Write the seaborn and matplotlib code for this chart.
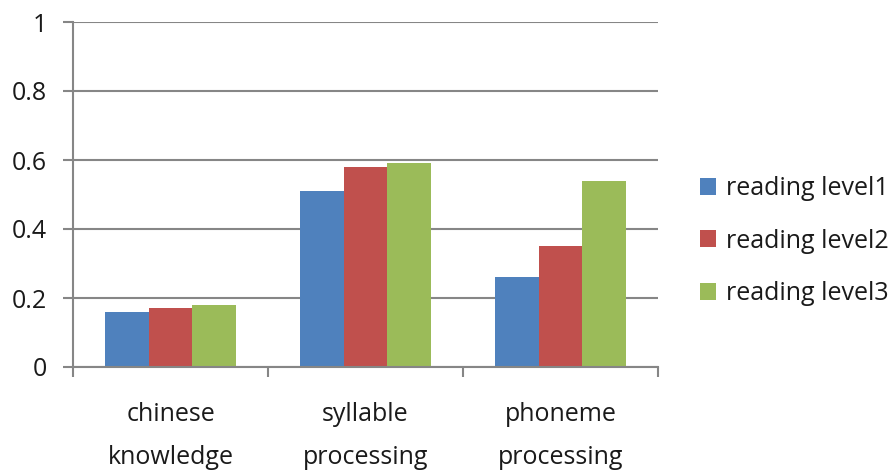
import matplotlib
matplotlib.use("Agg")
import matplotlib.pyplot as plt
from matplotlib.patches import Patch
import seaborn as sns
import pandas as pd

# Chart data
categories = ["chinese\nknowledge", "syllable\nprocessing", "phoneme\nprocessing"]
series_names = ["reading level1", "reading level2", "reading level3"]
level1 = [0.16, 0.51, 0.26]
level2 = [0.17, 0.58, 0.35]
level3 = [0.18, 0.59, 0.54]
y_ticks = [0, 0.2, 0.4, 0.6, 0.8, 1]
y_tick_labels = ["0", "0.2", "0.4", "0.6", "0.8", "1"]
colors = ["#4F81BD", "#C0504D", "#9BBB59"]

rows = []
for name, vals in zip(series_names, [level1, level2, level3]):
    for cat, v in zip(categories, vals):
        rows.append({"category": cat, "series": name, "value": v})
df = pd.DataFrame(rows)

sns.set_theme(style="white")
plt.rcParams["font.family"] = ["Open Sans", "DejaVu Sans"]

fig = plt.figure(figsize=(8.96, 4.75), dpi=100)
ax = fig.add_axes([73 / 896, 1 - 367 / 475, (658 - 73) / 896, (367 - 22) / 475])

sns.barplot(data=df, x="category", y="value", hue="series", order=categories,
            hue_order=series_names, palette=colors, width=0.667, gap=0,
            saturation=1, errorbar=None, legend=False, ax=ax, linewidth=0)

axis_gray = "#868686"
text_color = "#1a1a1a"
fs = 18
ax.set_xlim(-0.5, 2.5)
ax.set_ylim(0, 1)
ax.set_yticks(y_ticks)
ax.set_yticklabels(y_tick_labels)
ax.yaxis.grid(True, color=axis_gray, linewidth=1.5)
ax.set_axisbelow(True)
for side in ["top", "right"]:
    ax.spines[side].set_visible(False)
for side in ["left", "bottom"]:
    ax.spines[side].set_color(axis_gray)
    ax.spines[side].set_linewidth(1.5)

ax.set_xlabel("")
ax.set_ylabel("")
ax.set_xticks([0, 1, 2])
ax.set_xticklabels(categories, linespacing=1.95)
ax.set_xticks([-0.5, 0.5, 1.5, 2.5], minor=True)
ax.tick_params(axis="x", which="major", length=0, pad=25, labelsize=fs, labelcolor=text_color)
ax.tick_params(axis="x", which="minor", length=7, width=1.5, color=axis_gray, bottom=True)
ax.tick_params(axis="y", which="major", length=7, width=1.5, color=axis_gray, left=True,
               pad=12, labelsize=fs, labelcolor=text_color)

handles = [Patch(facecolor=c, edgecolor="none") for c in colors]
fig.legend(handles, series_names, loc="center left", bbox_to_anchor=(700 / 896, 1 - 241 / 475),
           frameon=False, fontsize=fs, handlelength=0.65, handleheight=0.65, handletextpad=0.4,
           labelspacing=1.1, labelcolor=text_color, borderaxespad=0, borderpad=0)

fig.savefig("out.png", dpi=100)
